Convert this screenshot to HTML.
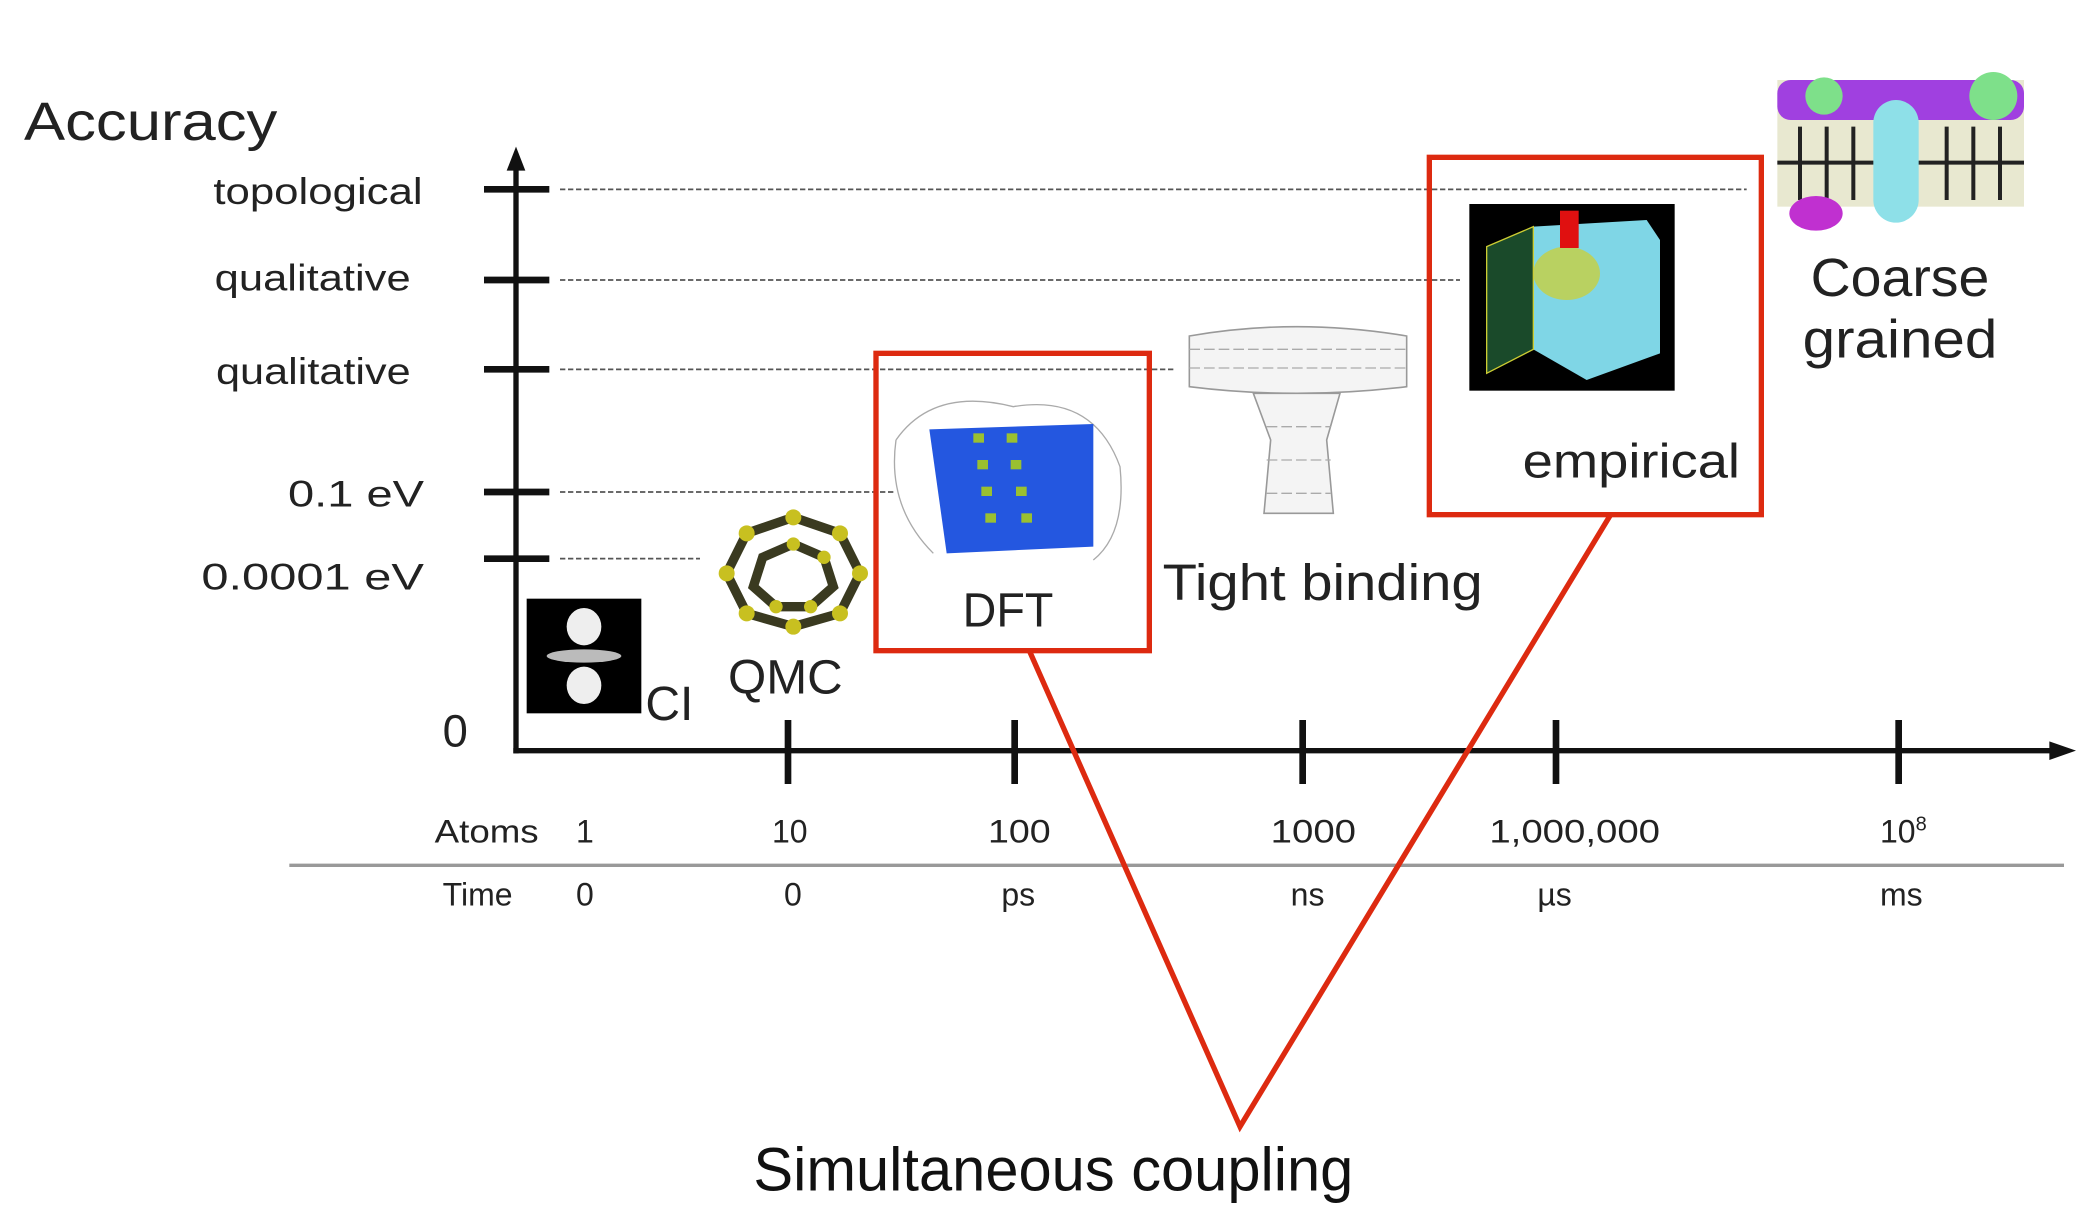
<!DOCTYPE html>
<html><head><meta charset="utf-8"><style>
html,body{margin:0;padding:0;background:#fff;}
svg{display:block;}
text{font-family:"Liberation Sans","DejaVu Sans",sans-serif;}
</style></head><body>
<svg width="2080" height="1213" viewBox="0 0 1560 909.75" preserveAspectRatio="none" xmlns="http://www.w3.org/2000/svg">
<rect width="1560" height="910" fill="#fff"/>
<text x="18" y="105" font-size="40" fill="#222" textLength="190" lengthAdjust="spacingAndGlyphs">Accuracy</text>
<g stroke="#555" stroke-width="1.3" stroke-dasharray="4,2">
<line x1="420" y1="142" x2="1310" y2="142"/>
<line x1="420" y1="210" x2="1095" y2="210"/>
<line x1="420" y1="277" x2="880" y2="277"/>
<line x1="420" y1="369" x2="670" y2="369"/>
<line x1="420" y1="419" x2="525" y2="419"/>
</g>
<line x1="387" y1="125" x2="387" y2="565" stroke="#111" stroke-width="4"/>
<polygon points="387,110 380,128 394,128" fill="#111"/>
<g stroke="#111" stroke-width="5">
<line x1="363" y1="142" x2="412" y2="142"/>
<line x1="363" y1="210" x2="412" y2="210"/>
<line x1="363" y1="277" x2="412" y2="277"/>
<line x1="363" y1="369" x2="412" y2="369"/>
<line x1="363" y1="419" x2="412" y2="419"/>
</g>
<g font-size="28" fill="#222">
<text x="160" y="153" textLength="157" lengthAdjust="spacingAndGlyphs">topological</text>
<text x="161" y="218" textLength="147" lengthAdjust="spacingAndGlyphs">qualitative</text>
<text x="162" y="288" textLength="146" lengthAdjust="spacingAndGlyphs">qualitative</text>
<text x="216" y="380" textLength="102" lengthAdjust="spacingAndGlyphs">0.1 eV</text>
<text x="151" y="442" textLength="167" lengthAdjust="spacingAndGlyphs">0.0001 eV</text>
</g>
<text x="332" y="560" font-size="34" fill="#222">0</text>
<line x1="385" y1="563" x2="1540" y2="563" stroke="#111" stroke-width="4"/>
<polygon points="1557,563 1537,556 1537,570" fill="#111"/>
<g stroke="#111" stroke-width="5">
<line x1="591" y1="540" x2="591" y2="588"/>
<line x1="761" y1="540" x2="761" y2="588"/>
<line x1="977" y1="540" x2="977" y2="588"/>
<line x1="1167" y1="540" x2="1167" y2="588"/>
<line x1="1424" y1="540" x2="1424" y2="588"/>
</g>
<g font-size="24" fill="#222">
<text x="326" y="632" textLength="78" lengthAdjust="spacingAndGlyphs">Atoms</text><text x="432" y="632">1</text><text x="579" y="632">10</text>
<text x="741" y="632" textLength="47" lengthAdjust="spacingAndGlyphs">100</text><text x="953" y="632" textLength="64" lengthAdjust="spacingAndGlyphs">1000</text><text x="1117" y="632" textLength="128" lengthAdjust="spacingAndGlyphs">1,000,000</text>
<text x="1410" y="632">10<tspan font-size="15" dy="-9">8</tspan></text>
<text x="332" y="679">Time</text><text x="432" y="679">0</text><text x="588" y="679">0</text>
<text x="751" y="679">ps</text><text x="968" y="679">ns</text><text x="1153" y="679">µs</text><text x="1410" y="679">ms</text>
</g>
<line x1="217" y1="649" x2="1548" y2="649" stroke="#999" stroke-width="2.5"/>
<rect x="395" y="449" width="86" height="86" fill="#000"/>
<ellipse cx="438" cy="470" rx="13" ry="14" fill="#eee"/>
<ellipse cx="438" cy="514" rx="13" ry="14" fill="#eee"/>
<ellipse cx="438" cy="492" rx="28" ry="5" fill="#bbb"/>
<text x="484" y="540" font-size="36" fill="#222">CI</text>
<g stroke="#3a3a20" stroke-width="7" fill="none">
<polygon points="595,388 630,400 645,430 630,460 595,470 560,460 545,430 560,400"/>
<polygon points="595,408 618,418 625,440 608,455 582,455 565,440 572,418"/>
</g>
<g fill="#c8c020">
<circle cx="595" cy="388" r="6"/><circle cx="630" cy="400" r="6"/><circle cx="645" cy="430" r="6"/><circle cx="630" cy="460" r="6"/>
<circle cx="595" cy="470" r="6"/><circle cx="560" cy="460" r="6"/><circle cx="545" cy="430" r="6"/><circle cx="560" cy="400" r="6"/>
<circle cx="595" cy="408" r="5"/><circle cx="618" cy="418" r="5"/><circle cx="582" cy="455" r="5"/><circle cx="608" cy="455" r="5"/>
</g>
<text x="546" y="520" font-size="36" fill="#222" textLength="86" lengthAdjust="spacingAndGlyphs">QMC</text>
<g stroke="#aaa" stroke-width="1" fill="none">
<path d="M672,330 Q700,290 760,305 Q820,295 840,350 Q845,400 820,420 M672,330 Q665,380 700,415"/>
</g>
<polygon points="697,322 820,318 820,410 710,415" fill="#2457e0"/>
<g fill="#9ac030">
<rect x="730" y="325" width="8" height="7"/><rect x="755" y="325" width="8" height="7"/>
<rect x="733" y="345" width="8" height="7"/><rect x="758" y="345" width="8" height="7"/>
<rect x="736" y="365" width="8" height="7"/><rect x="762" y="365" width="8" height="7"/>
<rect x="739" y="385" width="8" height="7"/><rect x="766" y="385" width="8" height="7"/>
</g>
<text x="722" y="470" font-size="36" fill="#222" textLength="68" lengthAdjust="spacingAndGlyphs">DFT</text>
<g stroke="#999" stroke-width="1.2" fill="#f4f4f4">
<path d="M892,252 Q972,238 1055,252 L1055,290 Q972,300 892,290 Z"/>
<path d="M940,295 L1005,295 L995,330 L1000,385 L948,385 L953,330 Z"/>
</g>
<g stroke="#aaa" stroke-width="1" fill="none" stroke-dasharray="8,3">
<line x1="892" y1="262" x2="1055" y2="262"/><line x1="892" y1="276" x2="1055" y2="276"/>
<line x1="950" y1="320" x2="998" y2="320"/><line x1="950" y1="345" x2="998" y2="345"/><line x1="950" y1="370" x2="998" y2="370"/>
</g>
<text x="872" y="450" font-size="38" fill="#222" textLength="240" lengthAdjust="spacingAndGlyphs">Tight binding</text>
<rect x="1102" y="153" width="154" height="140" fill="#000"/>
<polygon points="1150,170 1235,165 1245,180 1245,265 1190,285 1150,262" fill="#7fd6e6"/>
<polygon points="1115,185 1150,170 1150,262 1115,280" fill="#1a4a2a" stroke="#cc3" stroke-width="1"/>
<ellipse cx="1175" cy="205" rx="25" ry="20" fill="#c8d040" opacity="0.8"/>
<rect x="1170" y="158" width="14" height="28" fill="#e01010"/>
<text x="1142" y="358" font-size="36" fill="#222" textLength="163" lengthAdjust="spacingAndGlyphs">empirical</text>
<rect x="1333" y="60" width="185" height="95" fill="#e8e8d0"/>
<g fill="#a040e0"><rect x="1333" y="60" width="185" height="30" rx="10"/></g>
<g stroke="#222" stroke-width="3">
<line x1="1333" y1="122" x2="1518" y2="122"/>
<line x1="1350" y1="95" x2="1350" y2="150"/><line x1="1370" y1="95" x2="1370" y2="150"/><line x1="1390" y1="95" x2="1390" y2="150"/>
<line x1="1460" y1="95" x2="1460" y2="150"/><line x1="1480" y1="95" x2="1480" y2="150"/><line x1="1500" y1="95" x2="1500" y2="150"/>
</g>
<ellipse cx="1362" cy="160" rx="20" ry="13" fill="#c030d0"/>
<rect x="1405" y="75" width="34" height="92" rx="17" fill="#8ee0e8"/>
<circle cx="1495" cy="72" r="18" fill="#7ee08a"/>
<circle cx="1368" cy="72" r="14" fill="#7ee08a"/>
<text x="1358" y="222" font-size="40" fill="#222" textLength="134" lengthAdjust="spacingAndGlyphs">Coarse</text>
<text x="1352" y="268" font-size="40" fill="#222" textLength="146" lengthAdjust="spacingAndGlyphs">grained</text>
<g stroke="#dd2a10" stroke-width="4" fill="none">
<rect x="657" y="265" width="205" height="223"/>
<rect x="1072" y="118" width="249" height="268"/>
<polyline points="772,488 930,845 1208,386"/>
</g>
<text x="565" y="893" font-size="46" fill="#111" textLength="450" lengthAdjust="spacingAndGlyphs">Simultaneous coupling</text>
</svg>
</body></html>
